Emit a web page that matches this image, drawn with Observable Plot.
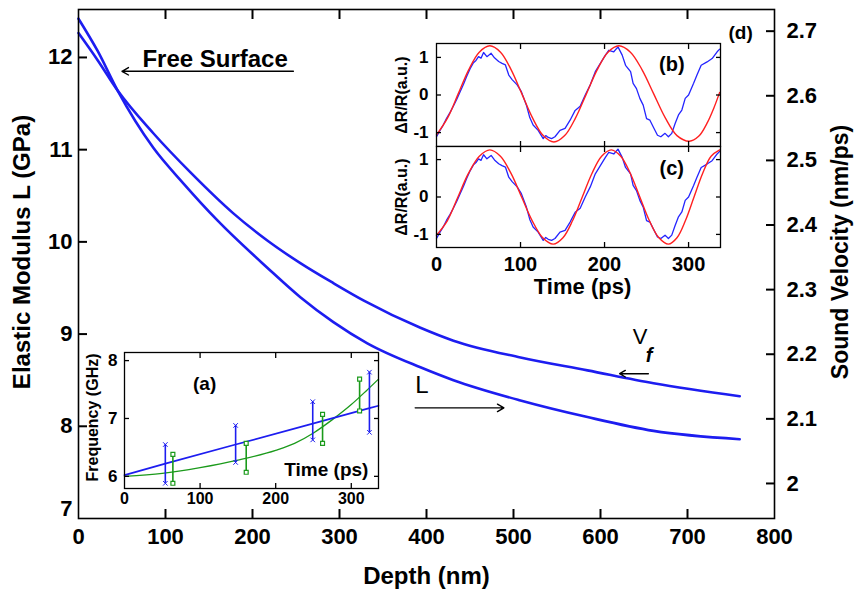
<!DOCTYPE html>
<html><head><meta charset="utf-8">
<script src="https://cdn.jsdelivr.net/npm/d3@7"></script>
<script src="https://cdn.jsdelivr.net/npm/@observablehq/plot@0.6"></script>
<style>
body{margin:0;background:#fff;}
#wrap{position:relative;width:855px;height:590px;overflow:hidden;}
#wrap svg{position:absolute;}
</style></head><body><div id="wrap"></div>
<script>
// ---------------- main chart data ----------------
const depthL = [0, 22, 45, 86, 121, 160, 217, 255, 293, 332, 393, 431, 508, 585, 661, 760];
const modulusL = [12.42, 12.07, 11.64, 11.02, 10.63, 10.23, 9.72, 9.40, 9.13, 8.90, 8.64, 8.50, 8.28, 8.10, 7.95, 7.86];
const depthVf = [0, 22, 45, 86, 129, 178, 217, 255, 293, 328, 393, 431, 508, 585, 661, 760];
const velocityVf = [2.697, 2.655, 2.608, 2.542, 2.481, 2.418, 2.376, 2.341, 2.310, 2.283, 2.241, 2.221, 2.195, 2.175, 2.155, 2.135];
const depthTicks = [0, 100, 200, 300, 400, 500, 600, 700, 800];
const modulusTicks = [7, 8, 9, 10, 11, 12];
const velocityTicks = [2.0, 2.1, 2.2, 2.3, 2.4, 2.5, 2.6, 2.7];
// right axis (velocity) vs left axis (modulus) reference pairs
const velRef = [2.0, 2.7];
const modRef = [7.38, 12.285];

// ---------------- inset (a) data ----------------
const fitBlueT = [0, 54, 147, 249, 324, 336];
const fitBlueF = [6.02, 6.22, 6.55, 6.91, 7.18, 7.22];
const fitGreenT = [0, 50, 100, 150, 200, 225, 250, 275, 300, 320, 336];
const fitGreenF = [6.00, 6.05, 6.15, 6.28, 6.45, 6.57, 6.75, 6.98, 7.24, 7.48, 7.68];
const errBlueT = [54, 147, 249, 324];
const errBlueLo = [5.88, 6.24, 6.63, 6.76];
const errBlueHi = [6.55, 6.88, 7.29, 7.80];
const errGreenT = [64, 161, 262, 311];
const errGreenLo = [5.88, 6.07, 6.57, 7.13];
const errGreenHi = [6.38, 6.57, 7.07, 7.68];
const timeTicksA = [0, 100, 200, 300];
const freqTicks = [6, 7, 8];

// ---------------- insets (b), (c) data ----------------
const sigT = [0,4,8,12,16,20,24,28,32,36,40,44,47,50,53,56,60,65,69,74,78,82,86,90,96,101,107,111,115,121,127,130,133,137,141,147,153,159,165,171,177,183,189,195,201,205,211,216,221,225,231,234,238,242,246,250,254,258,263,267,272,276,280,284,288,292,296,300,306,310,315,322,328,334,337];
const sigV = [-1.11,-0.95,-0.80,-0.62,-0.47,-0.30,-0.12,0.08,0.28,0.50,0.70,0.86,0.92,1.02,0.98,1.13,1.02,1.11,0.99,0.89,0.84,0.80,0.53,0.41,0.27,0.09,-0.27,-0.60,-0.80,-0.94,-1.16,-1.08,-1.13,-1.16,-1.11,-0.94,-0.89,-0.67,-0.41,-0.30,0.00,0.27,0.62,0.84,1.06,1.19,1.15,1.28,1.06,0.79,0.62,0.31,0.17,-0.09,-0.27,-0.63,-0.67,-0.85,-1.07,-1.11,-1.02,-1.11,-1.02,-0.76,-0.53,-0.40,-0.09,0.00,0.31,0.53,0.79,0.88,0.97,1.15,1.22];
const fitBT = [0,13.2,25.8,38.3,50.9,63.5,76.2,88.9,101.6,114.3,127,139.7,152.6,165.5,178.4,191.2,204.1,217,230.8,244.7,258.5,272.3,286.2,301,312,322,330,337];
const fitBV = [-1.06,-0.61,0.03,0.67,1.14,1.31,1.14,0.67,0.03,-0.61,-1.08,-1.25,-1.08,-0.61,0.03,0.67,1.14,1.31,1.14,0.67,0.03,-0.61,-1.08,-1.23,-1.10,-0.75,-0.35,0.07];
const fitCT = [0,13,25.5,38,51,63.5,76.1,88.7,101.3,113.8,126.4,139,150.5,162,173.5,185,196.5,208,219.3,230.7,242,253.3,264.7,276,286.2,296.3,306.5,316.7,326.8,337];
const fitCV = [-1.02,-0.63,0,0.63,1.09,1.26,1.09,0.63,0,-0.63,-1.09,-1.26,-1.09,-0.63,0,0.63,1.09,1.26,1.09,0.63,0,-0.63,-1.09,-1.26,-1.09,-0.63,0,0.63,1.09,1.26];
const timeTicksBC = [0, 100, 200, 300];
const drTicks = [-1, 0, 1];

// ---------------- helpers ----------------
const FONT = "'Liberation Sans', Arial, sans-serif";
const BLUE = "#1d1df0";
const RED = "#ff2020";
const GREEN = "#1b9a1b";
const vToL = v => modRef[0] + (v - velRef[0]) * (modRef[1] - modRef[0]) / (velRef[1] - velRef[0]);
const lToV = L => velRef[0] + (L - modRef[0]) * (velRef[1] - velRef[0]) / (modRef[1] - modRef[0]);
const zip = (a, b) => a.map((x, i) => ({x, y: b[i]}));
const plain = d => `${d}`;
const blank = () => "";
// inward tick marks: axis ticks shifted back inside the frame by their own length
function inTicks(xt, yt, s, sides = ["top", "bottom", "left", "right"], w = 1) {
  const m = [];
  const o = {tickSize: s, tickFormat: blank, label: null, stroke: "black", strokeWidth: w};
  if (sides.includes("bottom")) m.push(Plot.axisX(xt, {...o, anchor: "bottom", dy: -s}));
  if (sides.includes("top")) m.push(Plot.axisX(xt, {...o, anchor: "top", dy: s}));
  if (sides.includes("left")) m.push(Plot.axisY(yt, {...o, anchor: "left", dx: s}));
  if (sides.includes("right")) m.push(Plot.axisY(yt, {...o, anchor: "right", dx: -s}));
  return m;
}
const place = (svg, left, top) => { svg.style.left = left + "px"; svg.style.top = top + "px"; document.getElementById("wrap").appendChild(svg); };
const baseStyle = {fontFamily: FONT, background: "transparent", overflow: "visible", color: "black"};

// ---------------- main chart ----------------
const main = Plot.plot({
  width: 855, height: 590,
  marginLeft: 78, marginRight: 81, marginTop: 9, marginBottom: 72,
  style: baseStyle,
  x: {domain: [0, 800]},
  y: {domain: [7, 12.52]},
  marks: [
    Plot.line(zip(depthL, modulusL), {x: "x", y: "y", stroke: BLUE, strokeWidth: 2.6, curve: "monotone-x"}),
    Plot.line(zip(depthVf, velocityVf), {x: "x", y: d => vToL(d.y), stroke: BLUE, strokeWidth: 2.6, curve: "monotone-x"}),
    Plot.frame({strokeWidth: 1.6}),
    ...inTicks(depthTicks.slice(1, -1), modulusTicks.slice(1), 9, ["top", "bottom", "left"], 2),
    ...inTicks([], velocityTicks.map(vToL), 9, ["right"], 2),
    Plot.axisX(depthTicks, {anchor: "bottom", tickSize: 0, tickPadding: 10, fontSize: 22, fontWeight: "bold", label: null, tickFormat: plain}),
    Plot.axisY(modulusTicks.slice(1), {anchor: "left", tickSize: 0, tickPadding: 6, fontSize: 22, fontWeight: "bold", label: null, tickFormat: plain}),
    Plot.axisY(modulusTicks.slice(0, 1), {anchor: "left", tickSize: 0, tickPadding: 6, dy: -10, fontSize: 22, fontWeight: "bold", label: null, tickFormat: plain}),
    Plot.axisY(velocityTicks.map(vToL), {anchor: "right", tickSize: 0, tickPadding: 12, fontSize: 22, fontWeight: "bold", label: null,
      tickFormat: d => String(Math.round(lToV(d) * 10) / 10)}),
    Plot.text(["Depth (nm)"], {frameAnchor: "bottom", dy: 58, fontSize: 24, fontWeight: "bold", lineAnchor: "middle"}),
    Plot.text(["Elastic Modulus L (GPa)"], {frameAnchor: "left", textAnchor: "middle", lineAnchor: "middle", dx: -56, dy: -12, rotate: -90, fontSize: 24, fontWeight: "bold"}),
    Plot.text(["Sound Velocity (nm/ps)"], {frameAnchor: "right", textAnchor: "middle", lineAnchor: "middle", dx: 66, dy: -12, rotate: -90, fontSize: 23, fontWeight: "bold"}),
    // annotations
    Plot.text(["Free Surface"], {x: 157, y: 11.895, lineAnchor: "bottom", fontSize: 24, fontWeight: "bold"}),
    Plot.arrow([{x1: 247, y1: 11.85, x2: 50, y2: 11.85}], {x1: "x1", y1: "y1", x2: "x2", y2: "y2", strokeWidth: 1.4, headLength: 8, stroke: "black"}),
    Plot.text(["L"], {x: 387, y: 8.36, lineAnchor: "bottom", textAnchor: "start", fontSize: 24}),
    Plot.arrow([{x1: 387, y1: 8.20, x2: 489, y2: 8.20}], {x1: "x1", y1: "y1", x2: "x2", y2: "y2", strokeWidth: 1.4, headLength: 8, stroke: "black"}),
    Plot.text(["V"], {x: 637, y: 8.89, lineAnchor: "bottom", textAnchor: "start", fontSize: 22}),
    Plot.text(["f"], {x: 652, y: 8.70, lineAnchor: "bottom", textAnchor: "start", fontSize: 20, fontStyle: "italic", fontWeight: "bold"}),
    Plot.arrow([{x1: 655, y1: 8.57, x2: 622, y2: 8.57}], {x1: "x1", y1: "y1", x2: "x2", y2: "y2", strokeWidth: 1.4, headLength: 7, stroke: "black"}),
    Plot.text(["(d)"], {x: 761, y: 12.27, fontSize: 19, fontWeight: "bold"})
  ]
});
place(main, 0, 0);

// ---------------- inset (a) ----------------
const insetA = Plot.plot({
  width: 305, height: 172,
  marginLeft: 44, marginRight: 7, marginTop: 12, marginBottom: 24,
  style: baseStyle,
  x: {domain: [0, 336]},
  y: {domain: [5.79, 8.14]},
  marks: [
    Plot.frame({fill: "white", stroke: null}),
    Plot.line(zip(fitGreenT, fitGreenF), {x: "x", y: "y", stroke: GREEN, strokeWidth: 1.3, curve: "monotone-x"}),
    Plot.line(zip(fitBlueT, fitBlueF), {x: "x", y: "y", stroke: BLUE, strokeWidth: 1.7}),
    Plot.ruleX(errBlueT.map((t, i) => ({t, lo: errBlueLo[i], hi: errBlueHi[i]})), {x: "t", y1: "lo", y2: "hi", stroke: BLUE, strokeWidth: 1.6}),
    Plot.dot(errBlueT.flatMap((t, i) => [{t, f: errBlueLo[i]}, {t, f: errBlueHi[i]}]), {x: "t", y: "f", symbol: "times", r: 2.2, stroke: BLUE, strokeWidth: 1}),
    Plot.ruleX(errGreenT.map((t, i) => ({t, lo: errGreenLo[i], hi: errGreenHi[i]})), {x: "t", y1: "lo", y2: "hi", stroke: GREEN, strokeWidth: 1.6}),
    Plot.dot(errGreenT.flatMap((t, i) => [{t, f: errGreenLo[i]}, {t, f: errGreenHi[i]}]), {x: "t", y: "f", symbol: "square", r: 2.2, stroke: GREEN, fill: "white", strokeWidth: 1.2}),
    Plot.frame({strokeWidth: 1.3}),
    ...inTicks(timeTicksA.slice(1), freqTicks, 5, undefined, 1.3),
    Plot.axisX(timeTicksA, {anchor: "bottom", tickSize: 0, tickPadding: 4, fontSize: 16, fontWeight: "bold", label: null, tickFormat: plain}),
    Plot.axisY(freqTicks, {anchor: "left", tickSize: 0, tickPadding: 7, fontSize: 17, fontWeight: "bold", label: null, tickFormat: plain}),
    Plot.text(["Frequency (GHz)"], {frameAnchor: "left", textAnchor: "middle", lineAnchor: "middle", dx: -32, dy: -3, rotate: -90, fontSize: 16, fontWeight: "bold"}),
    Plot.text(["(a)"], {x: 106, y: 7.5, lineAnchor: "bottom", fontSize: 19, fontWeight: "bold"}),
    Plot.text(["Time (ps)"], {x: 267, y: 6.0, lineAnchor: "bottom", fontSize: 19, fontWeight: "bold"})
  ]
});
place(insetA, 80, 340);

// ---------------- insets (b) and (c) ----------------
function waveInset(fitT, fitV, tag, yMax, mt, mb, h, showX) {
  return Plot.plot({
    width: 348, height: h,
    marginLeft: 56, marginRight: 8, marginTop: mt, marginBottom: mb,
    style: baseStyle,
    x: {domain: [0, 338]},
    y: {domain: [-yMax, yMax]},
    marks: [
      Plot.frame({fill: "white", stroke: null}),
      Plot.line(zip(sigT, sigV), {x: "x", y: "y", stroke: "#2424ff", strokeWidth: 1.3}),
      Plot.line(zip(fitT, fitV), {x: "x", y: "y", stroke: RED, strokeWidth: 1.4, curve: "catmull-rom"}),
      Plot.frame({strokeWidth: 1.3}),
      ...inTicks(timeTicksBC.slice(1), drTicks, 5, undefined, 1.3),
      Plot.axisY(drTicks, {anchor: "left", tickSize: 0, tickPadding: 8, fontSize: 17, fontWeight: "bold", label: null, tickFormat: plain}),
      ...(showX ? [
        Plot.axisX(timeTicksBC, {anchor: "bottom", tickSize: 0, tickPadding: 9, fontSize: 20, fontWeight: "bold", label: null, tickFormat: plain}),
        Plot.text(["Time (ps)"], {frameAnchor: "bottom", dx: 4, dy: 46, lineAnchor: "bottom", fontSize: 22, fontWeight: "bold"})
      ] : []),
      Plot.text(["ΔR/R(a.u.)"], {frameAnchor: "left", textAnchor: "middle", lineAnchor: "middle", dx: -35, rotate: -90, fontSize: 16, fontWeight: "bold"}),
      Plot.text([tag.label], {x: 280, y: tag.y, fontSize: 20, fontWeight: "bold"})
    ]
  });
}
place(waveInset(fitBT, fitBV, {label: "(b)", y: 0.82}, 1.37, 13, 4, 120, false), 380, 30);
place(waveInset(fitCT, fitCV, {label: "(c)", y: 0.75}, 1.35, 6, 53, 160, true), 380, 140);
</script>
</body></html>
